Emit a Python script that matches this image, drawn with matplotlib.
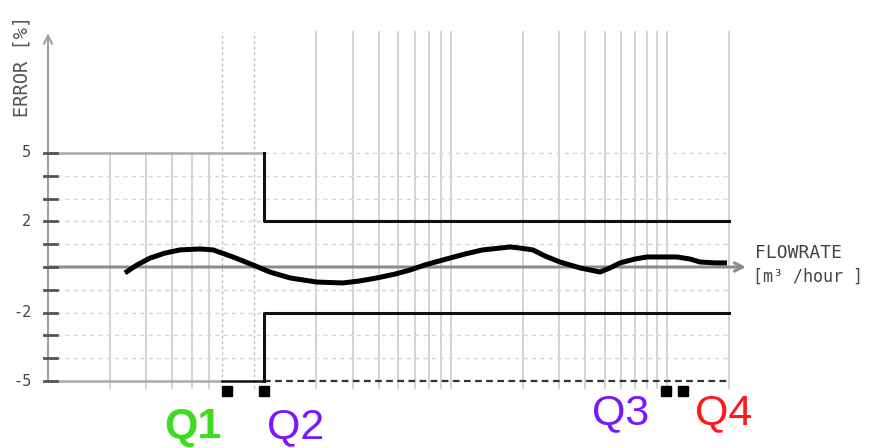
"""
Flowmeter error envelope with Q1..Q4 flowrate markers.
"""
###############################################################################
# Imports and data
# ~~~~~~~~~~~~~~~~

import matplotlib.pyplot as plt
import numpy as np

flow = [2.36, 2.70, 3.12, 3.69, 4.36, 5.46, 6.31, 7.88, 9.86, 11.9, 14.9,
        20.1, 26.9, 32.5, 39.3, 48.1, 56.9, 67.2, 82.2, 105, 128, 155, 174,
        194, 224, 257, 303, 379, 474, 530, 593, 700, 801, 947, 1120, 1294,
        1446, 1711, 1955]
error = [-0.26, 0.09, 0.39, 0.61, 0.75, 0.79, 0.75, 0.44, 0.09, -0.22, -0.48,
         -0.66, -0.70, -0.61, -0.48, -0.31, -0.13, 0.09, 0.31, 0.57, 0.75,
         0.83, 0.88, 0.83, 0.75, 0.48, 0.22, -0.04, -0.22, -0.04, 0.18, 0.35,
         0.44, 0.44, 0.44, 0.35, 0.22, 0.18, 0.18]

# vertical grid lines
grid_low = [2, 3, 4, 5, 6]
grid_full = [20, 30, 40, 50, 60, 70, 80, 90,
             200, 300, 400, 500, 600, 700, 800, 900, 1000, 2000]
grid_dotted = [7, 10]

# error limits
mpe_wide = 5
mpe_narrow = 2
y_ticks = [5, 2, -2, -5]

# characteristic flowrates
q_names = ["Q1", "Q2", "Q3", "Q4"]
q_flow = [7.4, 11.2, 988, 1196]
q_colors = ["#3ddc22", "#7b17ff", "#7b17ff", "#ff1a1a"]
q_bold = [True, False, False, False]

x_start = 1
x_end = 2000

###############################################################################
# Figure: one axes filling the canvas, log flowrate vs linear error

fig = plt.figure(figsize=(8.69, 4.48), dpi=100)
ax = fig.add_axes([0, 0, 1, 1])
ax.set_xscale("log")
px_dec = 206.3
ax.set_xlim(10 ** (-48 / px_dec), 10 ** ((869 - 48) / px_dec))
ax.set_ylim(-(448 - 267) / 22.8, 267 / 22.8)
ax.axis("off")

grey = "#c8c8c8"
dark = "#111111"

# vertical grid
for v in grid_low:
    ax.plot([v, v], [-5.3, mpe_wide], color=grey, lw=1.1, zorder=1)
for v in grid_full:
    ax.plot([v, v], [-5.3, 10.3], color=grey, lw=1.1, zorder=1)
for v in grid_dotted:
    ax.plot([v, v], [-5.3, 10.3], color="#bdbdbd", lw=1.0, ls=(0, (2, 2)), zorder=1)

# horizontal dashed grid
for yv in range(-4, 5):
    if yv == 0:
        continue
    ax.plot([x_start, x_end], [yv, yv], color="#d4d4d4", lw=1.0,
            ls=(0, (3, 3)), zorder=1)
ax.plot([q_flow[1], x_end], [mpe_wide, mpe_wide], color="#d4d4d4", lw=1.0,
        ls=(0, (3, 3)), zorder=1)

# left tick marks and labels
for yv in range(-5, 6):
    ax.plot([0.956, 1.105], [yv, yv], color="#555555", lw=2.0, zorder=3)
for yv in y_ticks:
    ax.text(0.83, yv, str(yv), ha="right", va="center", fontsize=11,
            family="DejaVu Sans Mono", color="#444444")

# error envelope
ax.plot([x_start, q_flow[1]], [mpe_wide, mpe_wide], color="#ababab", lw=1.8, zorder=2)
ax.plot([x_start, grid_dotted[0]], [-mpe_wide, -mpe_wide], color="#ababab", lw=1.8, zorder=2)
ax.plot([grid_dotted[0], q_flow[1]], [-mpe_wide, -mpe_wide], color=dark, lw=1.8, zorder=2)
ax.plot([q_flow[1], x_end], [-mpe_wide, -mpe_wide], color="#333333", lw=1.6,
        ls=(0, (3, 2)), zorder=2)
ax.plot([q_flow[1], q_flow[1], x_end], [mpe_wide, mpe_narrow, mpe_narrow],
        color=dark, lw=2.2, zorder=3)
ax.plot([q_flow[1], q_flow[1], x_end], [-mpe_wide, -mpe_narrow, -mpe_narrow],
        color=dark, lw=2.2, zorder=3)

# axes with open arrow heads
ax.annotate("", xy=(2420, 0), xytext=(x_start, 0),
            arrowprops=dict(arrowstyle="->,head_length=0.6,head_width=0.3",
                            color="#8c8c8c", lw=2.2, shrinkA=0, shrinkB=0), zorder=2)
ax.annotate("", xy=(x_start, 10.25), xytext=(x_start, -5),
            arrowprops=dict(arrowstyle="->,head_length=0.6,head_width=0.3",
                            color="#a0a0a0", lw=1.5, shrinkA=0, shrinkB=0), zorder=2)

# error curve
ax.plot(flow, error, color="black", lw=3.6, solid_capstyle="butt",
        solid_joinstyle="round", zorder=4)

# axis titles
ax.text(10 ** ((22 - 48) / px_dec), (267 - 66) / 22.8, "ERROR [%]", rotation=90,
        ha="center", va="center", fontsize=13.5, family="DejaVu Sans Mono",
        color="#555555")
ax.text(10 ** ((755 - 48) / px_dec), (267 - 253) / 22.8, "FLOWRATE",
        ha="left", va="center", fontsize=13, family="DejaVu Sans Mono",
        color="#444444")
ax.text(10 ** ((753 - 48) / px_dec), (267 - 277) / 22.8, "[m³ /hour ]",
        ha="left", va="center", fontsize=12, family="DejaVu Sans Mono",
        color="#444444")

# Q markers and labels
label_y = [(267 - 427) / 22.8, (267 - 427) / 22.8,
           (267 - 413) / 22.8, (267 - 413) / 22.8]
label_x = [193, 296, 621, 724]
for name, qf, col, bold, ly, lx in zip(q_names, q_flow, q_colors, q_bold,
                                       label_y, label_x):
    ax.plot(qf, (267 - 391) / 22.8, marker="s", ms=7, color="black",
            mec="black", zorder=5, clip_on=False)
    ax.text(10 ** ((lx - 48) / px_dec), ly, name, ha="center", va="center",
            fontsize=31, color=col, family="Liberation Sans",
            fontweight="bold" if bold else "normal")

fig.savefig("out.png", dpi=100, facecolor="white")
